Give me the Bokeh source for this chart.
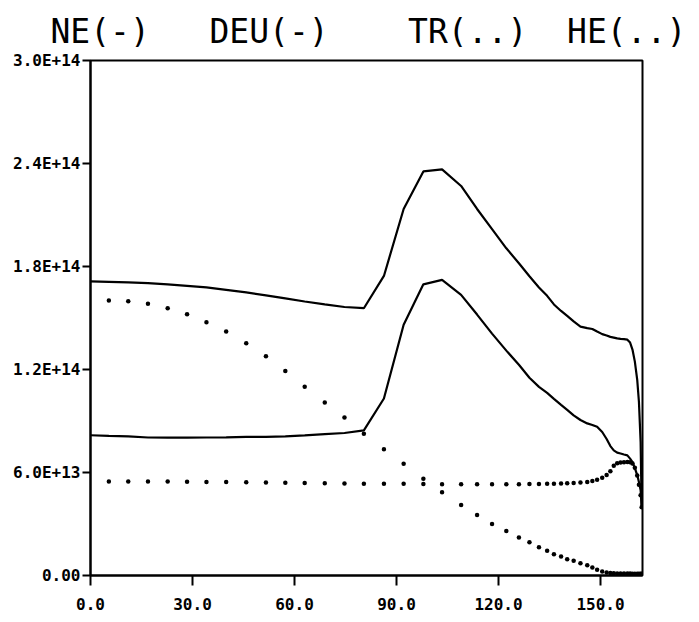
from bokeh.plotting import figure
from bokeh.models import FixedTicker, Range1d
from bokeh.embed import file_html
from bokeh.resources import INLINE

# radial grid (x) shared by all four profiles
x_grid = [0.0, 5.4, 11.1, 16.9, 22.7, 28.4, 34.1, 39.9, 45.8, 51.6,
          57.3, 63.0, 68.9, 74.7, 80.4, 86.3, 92.1, 97.9, 103.4, 109.0,
          113.7, 118.1, 122.3, 126.0, 129.1, 131.9, 134.3, 136.3, 138.4, 140.2,
          142.1, 144.1, 146.1, 147.6, 149.0, 150.5, 151.8, 152.9, 153.9, 154.9,
          155.9, 156.9, 157.9, 158.7, 159.4, 160.1, 160.8, 161.3, 161.8, 162.1]

# values in units of 1e14
ne = [1.713, 1.711, 1.708, 1.703, 1.696, 1.687, 1.678, 1.664, 1.649, 1.632,
      1.614, 1.596, 1.579, 1.564, 1.557, 1.745, 2.135, 2.354, 2.366, 2.269,
      2.135, 2.018, 1.906, 1.819, 1.743, 1.678, 1.629, 1.579, 1.541, 1.512,
      1.480, 1.450, 1.441, 1.436, 1.421, 1.406, 1.398, 1.390, 1.386, 1.381,
      1.378, 1.377, 1.374, 1.357, 1.316, 1.246, 1.140, 1.012, 0.778, 0.398]

deu = [0.817, 0.813, 0.810, 0.804, 0.803, 0.803, 0.804, 0.805, 0.807, 0.808,
       0.811, 0.816, 0.823, 0.830, 0.845, 1.031, 1.461, 1.696, 1.722, 1.635,
       1.520, 1.409, 1.310, 1.228, 1.152, 1.099, 1.064, 1.029, 0.994, 0.965,
       0.933, 0.906, 0.886, 0.877, 0.866, 0.836, 0.795, 0.754, 0.729, 0.716,
       0.711, 0.705, 0.700, 0.681, 0.661, 0.626, 0.585, 0.544, 0.497, 0.398]

tr = [1.603, 1.602, 1.598, 1.583, 1.557, 1.522, 1.475, 1.421, 1.353, 1.277,
      1.191, 1.099, 1.008, 0.920, 0.826, 0.735, 0.651, 0.563, 0.485, 0.411,
      0.353, 0.300, 0.259, 0.222, 0.193, 0.164, 0.144, 0.124, 0.111, 0.095,
      0.086, 0.072, 0.060, 0.047, 0.033, 0.023, 0.018, 0.015, 0.013, 0.012,
      0.012, 0.011, 0.011, 0.011, 0.010, 0.010, 0.010, 0.010, 0.010, 0.010]

he = [0.548, 0.548, 0.548, 0.547, 0.547, 0.546, 0.545, 0.544, 0.543, 0.542,
      0.541, 0.539, 0.538, 0.536, 0.535, 0.534, 0.534, 0.533, 0.532, 0.532,
      0.532, 0.532, 0.532, 0.532, 0.533, 0.533, 0.534, 0.535, 0.536, 0.537,
      0.539, 0.542, 0.545, 0.550, 0.558, 0.570, 0.585, 0.608, 0.640, 0.654,
      0.658, 0.660, 0.661, 0.660, 0.653, 0.628, 0.583, 0.528, 0.468, 0.398]

series_names = ["NE(-)", "DEU(-)", "TR(..)", "HE(..)"]

x_ticks = [0, 30, 60, 90, 120, 150]
x_tick_labels = ["0.0", "30.0", "60.0", "90.0", "120.0", "150.0"]
y_ticks = [0.0, 6.0e13, 1.2e14, 1.8e14, 2.4e14, 3.0e14]
y_tick_labels = ["0.00", "6.0E+13", "1.2E+14", "1.8E+14", "2.4E+14", "3.0E+14"]

SCALE = 1e14

NB = "\u00a0"
gaps = [3, 4, 2]
title_text = series_names[0]
for g, name in zip(gaps, series_names[1:]):
    title_text += NB * g + name

p = figure(width=699, height=622, output_backend="svg", toolbar_location=None,
           x_range=Range1d(0, 162.35), y_range=Range1d(0, 3.0e14),
           min_border_left=90, min_border_right=57, min_border_top=59,
           min_border_bottom=47, title=title_text)
p.background_fill_color = "white"
p.border_fill_color = "white"
p.grid.visible = False
p.outline_line_color = "black"
p.outline_line_width = 2

p.title.text_font = "DejaVu Sans Mono"
p.title.text_font_size = "33px"
p.title.text_font_style = "normal"
p.title.text_color = "black"
p.title.text_line_height = 0.75
p.title.align = "left"
p.title.offset = -40
p.title.standoff = 19

for ax in (p.xaxis[0], p.yaxis[0]):
    ax.axis_line_width = 2
    ax.axis_line_color = "black"
    ax.major_tick_line_width = 2
    ax.major_tick_line_color = "black"
    ax.minor_tick_line_color = None
    ax.major_tick_in = 0
    ax.major_label_text_font = "DejaVu Sans Mono"
    ax.major_label_text_font_style = "bold"
    ax.major_label_text_font_size = "16px"
    ax.major_label_text_color = "black"

p.xaxis[0].ticker = FixedTicker(ticks=x_ticks)
p.xaxis[0].major_label_overrides = {t: l for t, l in zip(x_ticks, x_tick_labels)}
p.xaxis[0].major_tick_out = 10
p.xaxis[0].major_label_standoff = 12

p.yaxis[0].ticker = FixedTicker(ticks=y_ticks)
p.yaxis[0].major_label_overrides = {t: l for t, l in zip(y_ticks, y_tick_labels)}
p.yaxis[0].major_tick_out = 8
p.yaxis[0].major_label_standoff = 2

ne_v = [v * SCALE for v in ne]
deu_v = [v * SCALE for v in deu]
tr_v = [v * SCALE for v in tr]
he_v = [v * SCALE for v in he]

p.line(x_grid, ne_v, line_color="black", line_width=2.2)
p.line(x_grid, deu_v, line_color="black", line_width=2.2)
p.scatter(x_grid[1:], tr_v[1:], size=4.5, marker="circle", fill_color="black", line_color=None)
p.scatter(x_grid[1:], he_v[1:], size=4.5, marker="circle", fill_color="black", line_color=None)

open("out.html", "w").write(file_html(p, INLINE))
